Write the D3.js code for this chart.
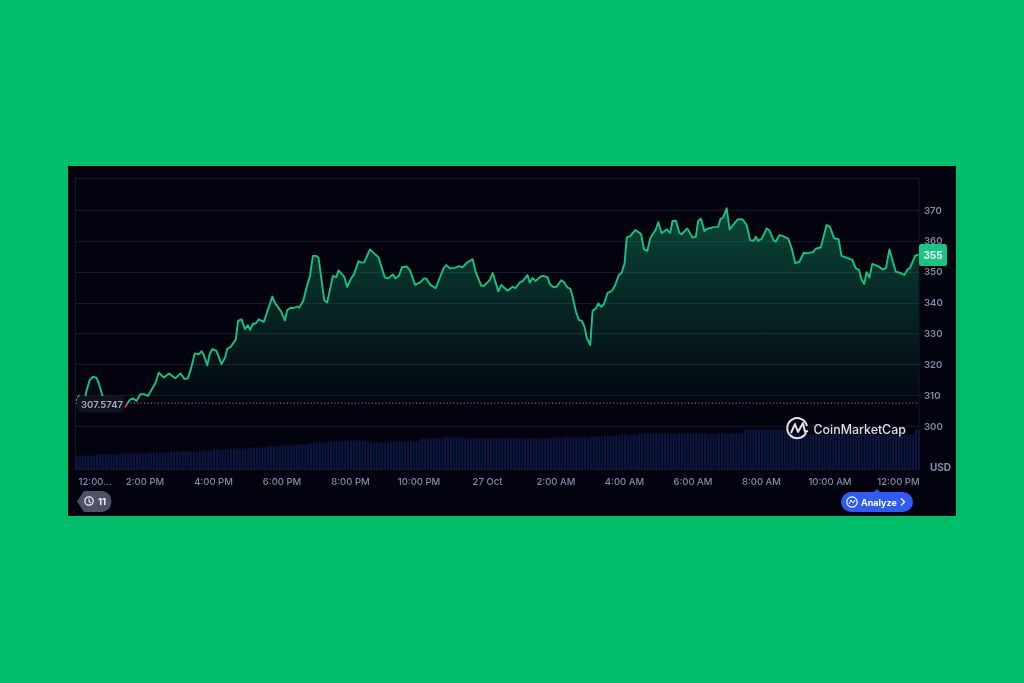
<!DOCTYPE html>
<html><head><meta charset="utf-8">
<style>
html,body{margin:0;padding:0;background:#00bd69;width:1024px;height:683px;overflow:hidden}
svg{display:block;font-family:Inter,"Noto Sans",sans-serif;filter:blur(0.35px)}
.tick line,.domain{display:none}
</style>
<script src="https://cdn.jsdelivr.net/npm/d3@7"></script>
</head><body><svg id="c" width="1024" height="683"></svg>
<script>
const minutes=[1,5,15,18,24,30,36,40,46,51,68,86,94,100,106,113,119,126,139,145,154,163,174,183,190,196,203,208,215,220,224,230,234,239,246,255,261,265,271,280,284,290,296,301,305,310,315,320,329,344,349,359,366,370,376,382,387,391,398,405,410,415,421,425,435,440,450,456,460,470,475,481,487,495,500,505,515,524,530,541,547,555,560,566,571,579,585,594,603,610,614,621,630,644,649,655,664,671,677,685,695,700,710,715,725,730,740,745,756,765,770,777,783,791,795,800,805,813,818,826,830,836,842,850,855,861,866,870,876,881,886,891,895,901,905,911,915,920,925,931,939,944,951,956,961,965,971,980,990,995,1001,1006,1016,1020,1026,1035,1041,1045,1051,1057,1061,1071,1080,1086,1090,1095,1101,1105,1117,1125,1129,1134,1140,1145,1152,1160,1168,1175,1181,1187,1191,1195,1201,1210,1215,1222,1226,1232,1239,1248,1254,1260,1267,1275,1281,1292,1296,1305,1315,1321,1328,1336,1341,1350,1360,1366,1372,1376,1381,1385,1390,1395,1407,1413,1419,1425,1436,1444,1451,1457,1461,1470,1476];
const prices=[308.3,309.9,307.9,311.3,315.1,316.1,315.8,314,310.2,307.9,306.6,306.3,308.6,309.1,308.3,310.5,310.5,309.9,314,317.4,315.9,317.2,315.6,317.2,315.4,315.6,319.8,323.7,323.4,324.4,323.1,319.8,323.4,325.1,324.5,320.2,322.3,325.2,325.8,328.2,334.2,334.7,331.5,332.8,331.3,333.3,333.4,334.7,333.9,342.1,339.9,337.4,334.4,337.7,338.5,338.4,338.9,338.5,340.7,345.8,348.8,355.3,355.3,354.6,340.9,340.2,348.8,348.4,350.6,348.5,345.2,347.7,349.3,353.6,353.1,353.2,357.4,355.8,354.8,348.3,348,349.3,348,348.9,351.6,351.9,350.7,345.9,346.7,348,347.9,345.9,344.8,351.3,352.3,351.3,351.4,352,351.6,353.1,354.2,350.2,345.6,345.6,347.5,349.8,343.8,345.9,344,345.3,344.8,346.6,347.2,349.1,346.6,348.1,347.1,348.5,348.8,348.4,346.2,345.2,345.3,347.4,346.8,345,344.7,342.1,337.2,334.5,334.3,332.3,328.6,326.4,337.5,338.3,339.9,338.8,339.7,343.2,344,345.5,349.1,349.8,352.9,361.3,361.7,363.7,362.4,357.5,356.9,361,363.9,366.2,362.6,363.9,362.8,366.6,366.7,362.8,362.3,364.2,361.2,361.5,366.7,367.3,363.3,364,364.6,364.7,367.2,367.8,370.7,363.9,365.5,367.2,367.1,365.3,360.4,360.2,361.5,360.2,360.7,364.2,363.5,360.4,359.9,362,361.7,360.8,357.7,353,353.3,356.3,356.1,356.6,357.6,358.1,365.3,364.7,361,360.7,355.3,354.7,354,351.3,350.7,347.7,346.2,350,348.3,352.7,351.8,350.9,351.3,357.4,350.2,349.8,349.1,350.9,351.3,355.3,355.8];
const volumes=[
13,14,14,14,14,14,14,15,15,15,15,15,15,15,15,15,16,16,16,16,
16,16,16,16,16,17,17,17,17,17,17,17,17,18,18,18,18,18,18,18,
18,18,18,18,19,19,19,19,20,20,20,20,20,20,21,21,21,21,21,21,
21,22,22,22,22,22,22,23,23,23,23,23,24,24,24,24,24,25,25,25,
25,26,26,26,27,27,27,27,28,28,28,28,28,28,29,29,29,29,29,29,
29,29,28,27,27,27,27,27,27,27,28,28,28,28,28,28,28,28,28,28,
30,31,31,31,31,31,31,31,31,32,32,32,32,32,32,32,31,31,31,31,
31,31,31,31,31,31,31,31,31,31,31,31,31,31,31,31,31,31,31,31,
31,31,31,31,31,31,31,32,32,32,32,32,32,32,32,32,32,32,32,32,
33,33,33,33,33,33,34,34,34,34,34,35,35,35,35,35,35,36,36,36,
36,36,36,36,36,36,36,36,36,36,36,36,36,36,36,36,36,36,36,36,
36,36,36,36,36,36,36,36,36,36,36,36,36,36,40,40,40,40,40,40,
40,40,40,40,40,40,40,40,39,38,37,36,35,35,35,35,35,35,35,35,
35,35,35,35,35,35,35,35,35,35,35,35,35,35,35,35,35,35,35,35,
35,35,35,35,35,35,35,35,35,35,35,35,35,35,40,40];
const priceTicks=[300,310,320,330,340,350,360,370];
const timeTicks=[0,120,240,360,480,600,720,840,960,1080,1200,1320,1440];
const timeLabels=["12:00...","2:00 PM","4:00 PM","6:00 PM","8:00 PM","10:00 PM","27 Oct","2:00 AM","4:00 AM","6:00 AM","8:00 AM","10:00 AM","12:00 PM"];
const basePrice=307.5747, lastPrice=355, historyCount="11";

const svg=d3.select("#c");
const x=d3.scaleLinear().domain([0,1476]).range([76,918.5]);
const y=d3.scaleLinear().domain([300,370]).range([426.5,210.5]);
const vy=d3.scaleLinear().domain([0,100]).range([469.5,369.5]);
const pts=minutes.map((m,i)=>[m,prices[i]]);
const axisCol="#858ca8", gridCol="#15182a";

svg.append("rect").attr("x",68).attr("y",166).attr("width",888).attr("height",350).attr("fill","#03030f");
const defs=svg.append("defs");
const g=defs.append("linearGradient").attr("id","ag").attr("gradientUnits","userSpaceOnUse")
  .attr("x1",0).attr("x2",0).attr("y1",y(370)).attr("y2",y(basePrice));
g.append("stop").attr("offset",0).attr("stop-color","#16c784").attr("stop-opacity",0.34);
g.append("stop").attr("offset",1).attr("stop-color","#16c784").attr("stop-opacity",0.01);
defs.append("clipPath").attr("id","above").append("rect").attr("x",60).attr("y",170).attr("width",880).attr("height",y(basePrice)-170);
defs.append("clipPath").attr("id","below").append("rect").attr("x",60).attr("y",y(basePrice)).attr("width",880).attr("height",100);

// frame + grid
svg.append("rect").attr("x",75.5).attr("y",178.5).attr("width",843.5).attr("height",291).attr("fill","none").attr("stroke",gridCol);
svg.append("g").selectAll("line").data(priceTicks).join("line")
  .attr("x1",75.5).attr("x2",919).attr("y1",d=>Math.floor(y(d))+.5).attr("y2",d=>Math.floor(y(d))+.5).attr("stroke",gridCol);

// volume
svg.append("g").selectAll("rect").data(volumes).join("rect")
  .attr("x",(d,i)=>x(i*5)).attr("width",2).attr("y",d=>vy(d)).attr("height",d=>vy(0)-vy(d)).attr("fill","#0c1840");

// area and lines
svg.append("path").attr("clip-path","url(#above)").attr("fill","url(#ag)")
  .attr("d",d3.area().x(d=>x(d[0])).y0(y(basePrice)).y1(d=>y(d[1]))(pts));
const ln=d3.line().x(d=>x(d[0])).y(d=>y(d[1]));
svg.append("path").attr("clip-path","url(#above)").attr("fill","none").attr("stroke","#12c47e").attr("stroke-width",1.9).attr("stroke-linejoin","round").attr("d",ln(pts));
svg.append("path").attr("clip-path","url(#below)").attr("fill","none").attr("stroke","#ea3943").attr("stroke-width",1.9).attr("stroke-linejoin","round").attr("d",ln(pts));
svg.append("line").attr("x1",x(0)).attr("x2",919).attr("y1",y(basePrice)).attr("y2",y(basePrice))
  .attr("stroke","#8f8f80").attr("stroke-width",1).attr("stroke-dasharray","1.2 2.2");

// axes
const ya=svg.append("g").attr("transform","translate(919,-0.5)")
  .call(d3.axisRight(y).tickValues(priceTicks).tickSize(0).tickPadding(5));
ya.selectAll("text").attr("fill",axisCol).attr("font-size",9.6).attr("font-weight",600).attr("font-family","Inter");
const xa=svg.append("g").attr("transform","translate(0,471)")
  .call(d3.axisBottom(x).tickValues(timeTicks).tickSize(0).tickPadding(7).tickFormat((d,i)=>timeLabels[i]));
xa.selectAll("text").attr("fill",axisCol).attr("font-size",9.5).attr("font-weight",500).attr("font-family","Inter");
xa.selectAll("text").filter((d,i)=>i===0).attr("text-anchor","start").attr("dx",2);
svg.append("text").attr("x",930).attr("y",470.5).attr("fill",axisCol).attr("font-size",10).attr("font-weight",700).text("USD");

// base label
svg.append("rect").attr("x",77).attr("y",396).attr("width",48).attr("height",16.5).attr("rx",4).attr("fill","#10121f");
svg.append("text").attr("x",81).attr("y",407.5).attr("fill","#a9aec2").attr("font-size",9.5).attr("font-weight",600).text(basePrice);

// price tag
svg.append("rect").attr("x",919).attr("y",244).attr("width",28).attr("height",22).attr("rx",2.5).attr("fill","#16c784");
svg.append("text").attr("x",933).attr("y",258.5).attr("text-anchor","middle").attr("fill","#fff").attr("font-size",10).attr("font-weight",700).text(lastPrice);

// watermark
const wm=svg.append("g").attr("fill","none").attr("stroke","#e4e5e9");
wm.append("path").attr("stroke-width",2).attr("d","M806 433 A10 10 0 1 1 807 426");
wm.append("path").attr("stroke-width",2).attr("stroke-linejoin","round").attr("d","M791 433 L795 424 L798 432 L803 423 L805 432 L808 431");
svg.append("text").attr("x",813.5).attr("y",433.5).attr("fill","#dfe0e5").attr("font-size",12.4).attr("font-weight",500).text("CoinMarketCap");

// history chip
svg.append("path").attr("fill","#4d5264").attr("d","M84 491 H102 A9.5 10.5 0 0 1 102 512 H84 L77 501.5 Z");
svg.append("circle").attr("cx",89).attr("cy",501).attr("r",4.2).attr("fill","none").attr("stroke","#eceef3").attr("stroke-width",1.3);
svg.append("path").attr("fill","none").attr("stroke","#eceef3").attr("stroke-width",1.1).attr("d","M89 498.5 V501.5 L91 503");
svg.append("text").attr("x",98).attr("y",505).attr("fill","#eceef3").attr("font-size",9.5).attr("font-weight",700).text(historyCount);

// analyze
svg.append("path").attr("fill","#2f5cf6").attr("d","M874 492 L877 489 L880 492 H903 A10 10 0 0 1 903 512 H851 A10 10 0 0 1 851 492 Z");
svg.append("circle").attr("cx",852).attr("cy",502).attr("r",5.2).attr("fill","none").attr("stroke","#fff").attr("stroke-width",1.2);
svg.append("path").attr("fill","none").attr("stroke","#fff").attr("stroke-width",1).attr("d","M849 504 L851 500 L853 503 L855 500");
svg.append("text").attr("x",861).attr("y",505.5).attr("fill","#fff").attr("font-size",9).attr("font-weight",700).text("Analyze");
svg.append("path").attr("fill","none").attr("stroke","#fff").attr("stroke-width",1.3).attr("d","M901 498.5 L904.5 502 L901 505.5");
</script></body></html>
